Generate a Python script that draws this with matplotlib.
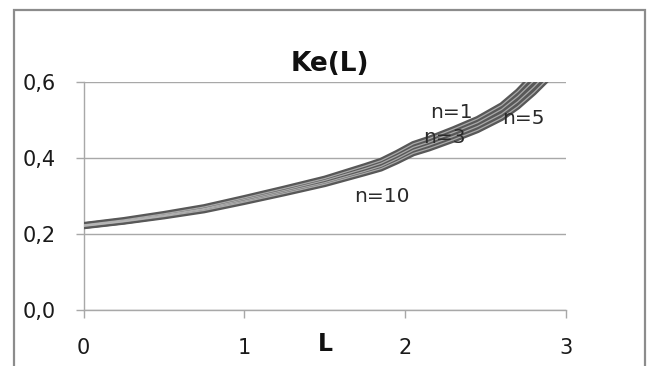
import matplotlib
matplotlib.use("Agg")
import matplotlib.pyplot as plt
from matplotlib.patches import Rectangle

# Ke(L) for several n
L_vals = [0, 0.25, 0.5, 0.75, 1.0, 1.25, 1.5, 1.75, 1.85, 1.95, 2.05, 2.15, 2.3, 2.45, 2.6, 2.7, 2.8, 2.9]
ke_n1 = [0.224, 0.237, 0.253, 0.271, 0.295, 0.320, 0.346, 0.379, 0.393, 0.414, 0.437, 0.451, 0.476, 0.503, 0.539, 0.575, 0.619, 0.666]
ke_n3 = [0.223, 0.235, 0.250, 0.267, 0.291, 0.315, 0.341, 0.372, 0.386, 0.406, 0.428, 0.442, 0.467, 0.493, 0.528, 0.562, 0.603, 0.649]
ke_n10 = [0.221, 0.233, 0.248, 0.265, 0.287, 0.311, 0.335, 0.365, 0.378, 0.398, 0.420, 0.434, 0.457, 0.483, 0.516, 0.548, 0.587, 0.631]
ke_n5 = [0.220, 0.232, 0.246, 0.262, 0.284, 0.307, 0.331, 0.360, 0.372, 0.391, 0.412, 0.425, 0.448, 0.473, 0.505, 0.535, 0.572, 0.614]

series = [ke_n5, ke_n10, ke_n3, ke_n1]

# curve labels and where they sit (data coords)
curve_labels = ["n=1", "n=3", "n=5", "n=10"]
label_x = [2.29, 2.245, 2.735, 1.855]
label_y = [0.521, 0.453, 0.505, 0.300]

x_ticks = [0, 1, 2, 3]
y_ticks = [0.0, 0.2, 0.4, 0.6]
y_ticklabels = ["0,0", "0,2", "0,4", "0,6"]

plt.rcParams["font.family"] = ["DejaVu Sans"]
GRID = "#a8a8a8"

fig = plt.figure(figsize=(6.54, 3.66), dpi=100)
ax = fig.add_axes([83.5 / 654, 1 - 310 / 366, (566 - 83.5) / 654, (310 - 82) / 366])

# outer chart frame
fig.patches.append(Rectangle((14 / 654, -0.05), (645 - 14) / 654, 0.973 + 0.05,
                             transform=fig.transFigure, fill=False,
                             edgecolor="#8c8c8c", linewidth=1.6))

# dark tubes first, then the light highlights on top (3D-ish look)
for ys in series:
    ax.plot(L_vals, ys, color="#585858", linewidth=4.2, solid_capstyle="butt",
            solid_joinstyle="round", zorder=3)
for ys in series:
    ax.plot(L_vals, ys, color="#bdbdbd", linewidth=0.9, solid_capstyle="butt",
            solid_joinstyle="round", zorder=3, alpha=0.8)

for txt, lx, ly in zip(curve_labels, label_x, label_y):
    ax.text(lx, ly, txt, fontsize=14.5, color="#2a2a2a", ha="center", va="center", zorder=4)

ax.set_xlim(0, 3)
ax.set_ylim(0, 0.6)
ax.set_xticks(x_ticks)
ax.set_yticks(y_ticks)
ax.set_yticklabels(y_ticklabels)
ax.yaxis.grid(True, color=GRID, linewidth=1.0)
ax.set_axisbelow(True)

for side in ["top", "right"]:
    ax.spines[side].set_visible(False)
for side in ["left", "bottom"]:
    ax.spines[side].set_color(GRID)
    ax.spines[side].set_linewidth(1.0)

ax.tick_params(axis="both", direction="out", length=6, width=1.0, color=GRID,
               labelsize=15, labelcolor="#1a1a1a")
ax.tick_params(axis="y", pad=14)
ax.tick_params(axis="x", pad=14)

fig.text(330 / 654, 1 - 64 / 366, "Ke(L)", fontsize=19, fontweight="bold",
         ha="center", va="center", color="#111111")
fig.text(325 / 654, 1 - 344 / 366, "L", fontsize=17, fontweight="bold",
         ha="center", va="center", color="#111111")

fig.savefig("out.png", dpi=100)
